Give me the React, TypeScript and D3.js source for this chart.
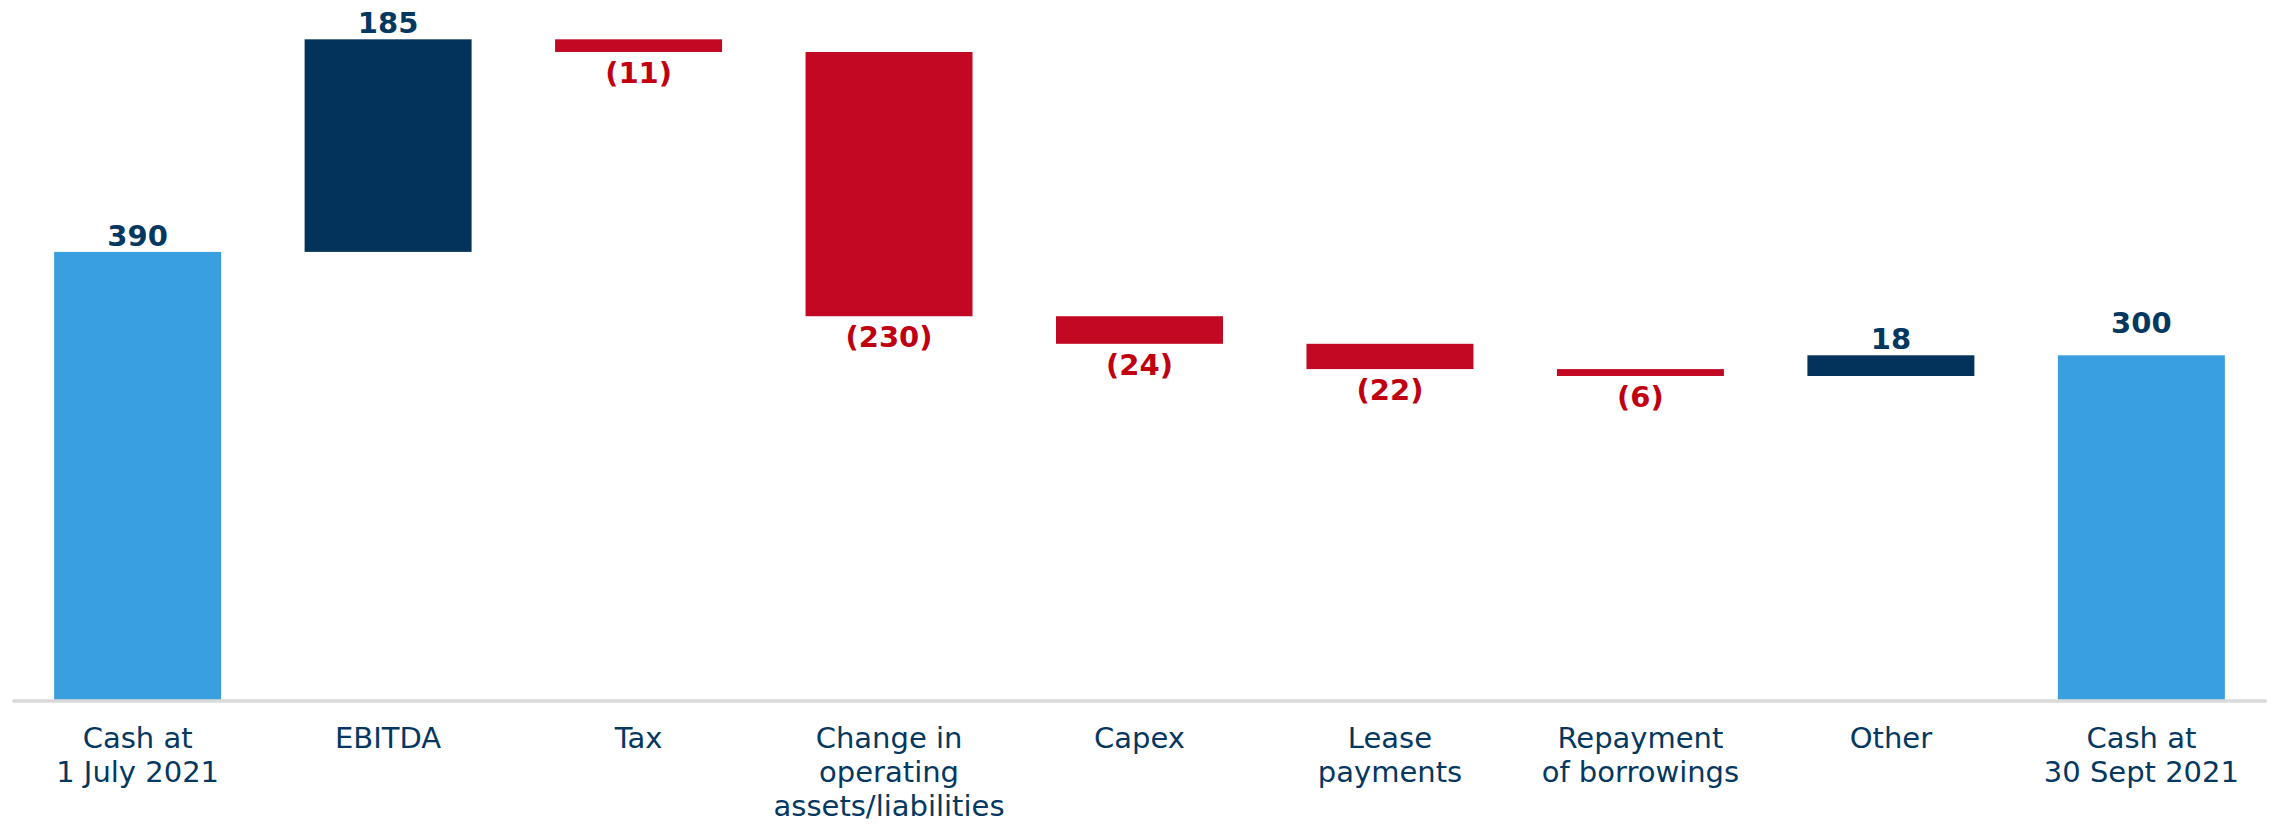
import React from "react";
import * as d3 from "d3";

// ---- Data ----
const categories: string[] = [
  "Cash at\n1 July 2021",
  "EBITDA",
  "Tax",
  "Change in\noperating\nassets/liabilities",
  "Capex",
  "Lease\npayments",
  "Repayment\nof borrowings",
  "Other",
  "Cash at\n30 Sept 2021",
];
const values: number[] = [390, 185, -11, -230, -24, -22, -6, 18, 300];
const kinds: string[] = ["total", "delta", "delta", "delta", "delta", "delta", "delta", "delta", "total"];
const yDomain: [number, number] = [0, 600];

// ---- Style ----
const W = 2274;
const H = 825;
const FONT = "'DejaVu Sans', Verdana, sans-serif";
const C_TOTAL = "#3A9FDF";
const C_UP = "#03325A";
const C_DOWN = "#C20823";
const T_NAVY = "#053861";
const T_RED = "#C00010";

export default function App() {
  const x = d3
    .scaleBand<string>()
    .domain(categories)
    .range([12.4, 2266.6])
    .paddingInner(1 / 3)
    .paddingOuter(1 / 6);
  const y = d3.scaleLinear().domain(yDomain).range([700, 10.6]);

  let running = 0;
  const bars = categories.map((c, i) => {
    const v = values[i];
    let start: number, end: number;
    if (kinds[i] === "total") {
      start = 0;
      end = v;
      running = v;
    } else {
      start = running;
      end = running + v;
      running = end;
    }
    const color = kinds[i] === "total" ? C_TOTAL : v >= 0 ? C_UP : C_DOWN;
    return { c, v, start, end, color, kind: kinds[i], i };
  });

  return (
    <svg
      width={W}
      height={H}
      viewBox={`0 0 ${W} ${H}`}
      style={{ position: "absolute", left: 0, top: 0, background: "#fff" }}
      fontFamily={FONT}
    >
      {bars.map((b) => {
        const top = y(Math.max(b.start, b.end));
        const bottom = y(Math.min(b.start, b.end));
        const bx = x(b.c)!;
        const bw = x.bandwidth();
        const cx = bx + bw / 2;
        const neg = b.v < 0;
        const lift = b.i === categories.length - 1 ? -16 : 0;
        const label = neg ? `(${Math.abs(b.v)})` : `${b.v}`;
        return (
          <g key={b.c}>
            <rect x={bx} y={top} width={bw} height={Math.max(1, bottom - top)} fill={b.color} />
            <text
              x={cx}
              y={neg ? bottom + 31 : top - 6 + lift}
              textAnchor="middle"
              fontSize={29}
              fontWeight="bold"
              fill={neg ? T_RED : T_NAVY}
            >
              {label}
            </text>
          </g>
        );
      })}
      <line x1={12.4} x2={2266.6} y1={701} y2={701} stroke="#DADADA" strokeWidth={3.5} />
      {categories.map((c) => {
        const cx = x(c)! + x.bandwidth() / 2;
        const lines = c.split("\n");
        return (
          <text key={"l" + c} x={cx} y={748.3} textAnchor="middle" fontSize={29} fill={T_NAVY}>
            {lines.map((ln, j) => (
              <tspan key={j} x={cx} dy={j === 0 ? 0 : 34}>
                {ln}
              </tspan>
            ))}
          </text>
        );
      })}
    </svg>
  );
}
